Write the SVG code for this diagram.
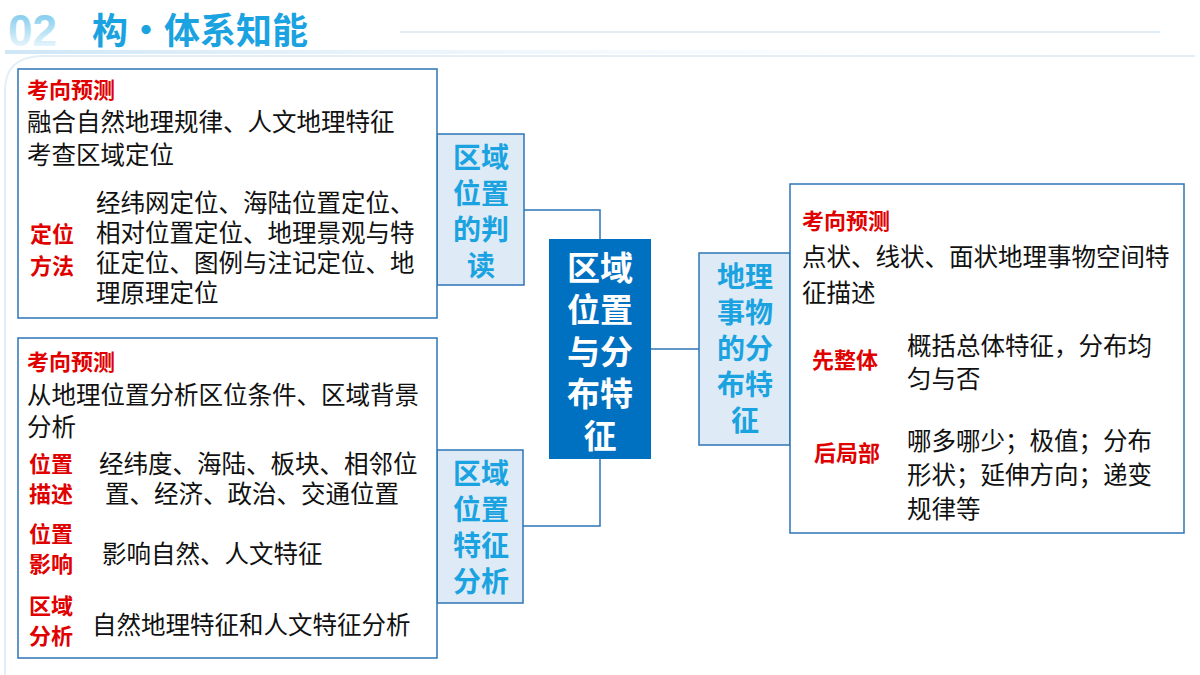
<svg xmlns="http://www.w3.org/2000/svg" width="1200" height="675" viewBox="0 0 1200 675">
<defs>
<linearGradient id="hdr" x1="0" x2="1" y1="0" y2="0"><stop offset="0" stop-color="#cfe6f6"/><stop offset="1" stop-color="#ffffff" stop-opacity="0"/></linearGradient>
<linearGradient id="num" x1="0" x2="0" y1="0" y2="1"><stop offset="0" stop-color="#6cc3ea"/><stop offset="1" stop-color="#ffffff"/></linearGradient>
</defs>
<style>
.t{font-family:"Noto Sans CJK SC","Noto Sans",sans-serif;font-size:24.5px;fill:#111}
.r{font-family:"Noto Sans CJK SC",sans-serif;font-size:22px;font-weight:bold;fill:#e00000}
.lb{font-family:"Noto Sans CJK SC",sans-serif;font-size:28px;font-weight:bold;fill:#1aa3e0;text-anchor:middle}
.box{fill:#fff;stroke:#2e75b6;stroke-width:1.5}
.lbl{fill:#deebf7;stroke:#2e75b6;stroke-width:1.5}
.c{fill:none;stroke:#2e75b6;stroke-width:1.5}
</style>
<rect width="1200" height="675" fill="#ffffff"/>
<rect x="5" y="50" width="1190" height="4" fill="url(#hdr)"/>
<path d="M5,675 V90 Q5,58 40,56 H1195" fill="none" stroke="#e3eff8" stroke-width="2"/>
<text x="8" y="46" font-family="Liberation Sans,sans-serif" font-size="44" font-weight="bold" fill="url(#num)">02</text>
<text x="92" y="44" font-family="Noto Sans CJK SC,sans-serif" font-size="36" font-weight="bold" fill="#1aa3e0">构·体系知能</text>
<line x1="400" y1="32" x2="1160" y2="32" stroke="#e0ecf6" stroke-width="2"/>
<g id="connectors">
<path class="c" d="M524,210 H600 V239"/>
<path class="c" d="M523,526 H600 V459"/>
<path class="c" d="M651,349 H699"/>
</g>
<g id="center">
<rect x="549" y="239" width="102" height="220" fill="#0070c0"/>
<text font-family="Noto Sans CJK SC,sans-serif" font-size="33" font-weight="bold" fill="#fff" text-anchor="middle"><tspan x="600" y="280">区域</tspan><tspan x="600" y="322">位置</tspan><tspan x="600" y="364">与分</tspan><tspan x="600" y="406">布特</tspan><tspan x="600" y="448">征</tspan></text>
</g>
<g id="label1">
<rect class="lbl" x="437" y="134" width="87" height="151"/>
<text class="lb"><tspan x="481" y="168">区域</tspan><tspan x="481" y="204">位置</tspan><tspan x="481" y="240">的判</tspan><tspan x="481" y="276">读</tspan></text>
</g>
<g id="label2">
<rect class="lbl" x="437" y="450" width="86" height="153"/>
<text class="lb"><tspan x="481" y="484">区域</tspan><tspan x="481" y="520">位置</tspan><tspan x="481" y="556">特征</tspan><tspan x="481" y="592">分析</tspan></text>
</g>
<g id="label3">
<rect class="lbl" x="699" y="253" width="91" height="192"/>
<text class="lb"><tspan x="745" y="287">地理</tspan><tspan x="745" y="323">事物</tspan><tspan x="745" y="359">的分</tspan><tspan x="745" y="395">布特</tspan><tspan x="745" y="431">征</tspan></text>
</g>
<g id="box1">
<rect class="box" x="18" y="69" width="419" height="249"/>
<text class="r" x="27" y="98">考向预测</text>
<text class="t" x="27" y="131">融合自然地理规律、人文地理特征</text>
<text class="t" x="27" y="164">考查区域定位</text>
<text class="r"><tspan x="30" y="242">定位</tspan><tspan x="30" y="274">方法</tspan></text>
<text class="t"><tspan x="96" y="212">经纬网定位、海陆位置定位、</tspan><tspan x="96" y="242">相对位置定位、地理景观与特</tspan><tspan x="96" y="272">征定位、图例与注记定位、地</tspan><tspan x="96" y="302">理原理定位</tspan></text>
</g>
<g id="box2">
<rect class="box" x="18" y="338" width="419" height="320"/>
<text class="r" x="27" y="370">考向预测</text>
<text class="t" x="27" y="404">从地理位置分析区位条件、区域背景</text>
<text class="t" x="27" y="436">分析</text>
<text class="r"><tspan x="29" y="472">位置</tspan><tspan x="29" y="502">描述</tspan></text>
<text class="t"><tspan x="99" y="473">经纬度、海陆、板块、相邻位</tspan><tspan x="105" y="503">置、经济、政治、交通位置</tspan></text>
<text class="r"><tspan x="29" y="542">位置</tspan><tspan x="29" y="572">影响</tspan></text>
<text class="t" x="102" y="563">影响自然、人文特征</text>
<text class="r"><tspan x="29" y="614">区域</tspan><tspan x="29" y="644">分析</tspan></text>
<text class="t" x="92" y="634">自然地理特征和人文特征分析</text>
</g>
<g id="box3">
<rect class="box" x="790" y="184" width="394" height="349"/>
<text class="r" x="802" y="229">考向预测</text>
<text class="t" x="802" y="266">点状、线状、面状地理事物空间特</text>
<text class="t" x="802" y="302">征描述</text>
<text class="r" x="812" y="368">先整体</text>
<text class="t"><tspan x="907" y="355">概括总体特征，分布均</tspan><tspan x="907" y="388">匀与否</tspan></text>
<text class="r" x="814" y="461">后局部</text>
<text class="t"><tspan x="907" y="450">哪多哪少；极值；分布</tspan><tspan x="907" y="484">形状；延伸方向；递变</tspan><tspan x="907" y="518">规律等</tspan></text>
</g>
</svg>
